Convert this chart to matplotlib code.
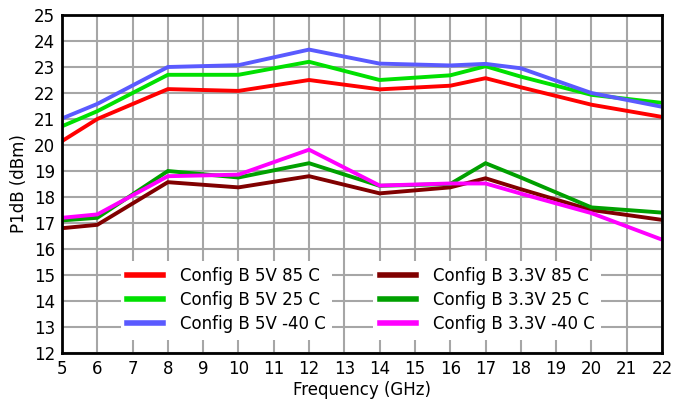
import matplotlib
matplotlib.use('Agg')
import matplotlib.pyplot as plt
import numpy as np

plt.rcParams['font.family'] = ['DejaVu Sans']

freq = [5, 6, 8, 10, 12, 14, 16, 17, 18, 20, 22]

v5_85 = [20.15, 21.0, 22.15, 22.08, 22.5, 22.14, 22.28, 22.57, 22.22, 21.55, 21.08]
v5_25 = [20.72, 21.3, 22.7, 22.7, 23.2, 22.5, 22.68, 23.03, 22.63, 21.93, 21.62]
v5_m40 = [21.02, 21.58, 23.0, 23.07, 23.67, 23.13, 23.06, 23.12, 22.95, 22.0, 21.47]
v33_85 = [16.8, 16.93, 18.57, 18.37, 18.8, 18.14, 18.37, 18.72, 18.3, 17.5, 17.12]
v33_25 = [17.1, 17.2, 19.0, 18.75, 19.3, 18.43, 18.5, 19.3, 18.75, 17.6, 17.4]
v33_m40 = [17.2, 17.33, 18.8, 18.86, 19.82, 18.44, 18.52, 18.52, 18.13, 17.38, 16.36]

labels_5v = ['Config B 5V 85 C', 'Config B 5V 25 C', 'Config B 5V -40 C']
labels_33v = ['Config B 3.3V 85 C', 'Config B 3.3V 25 C', 'Config B 3.3V -40 C']
colors_5v = ['#ff0000', '#00e000', '#5a5aff']
colors_33v = ['#800000', '#00a000', '#ff00ff']

fig = plt.figure(figsize=(6.87, 4.08), dpi=100)
ax = fig.add_axes([62/687, 1-353/408, 600/687, 338/408])

lines_5v = []
for vals, lab, c in zip([v5_85, v5_25, v5_m40], labels_5v, colors_5v):
    l, = ax.plot(freq, vals, color=c, lw=2.8, label=lab, solid_joinstyle='miter')
    lines_5v.append(l)
lines_33v = []
for vals, lab, c in zip([v33_85, v33_25, v33_m40], labels_33v, colors_33v):
    l, = ax.plot(freq, vals, color=c, lw=2.8, label=lab, solid_joinstyle='miter')
    lines_33v.append(l)

ax.set_xlim(5, 22)
ax.set_ylim(12, 25)
ax.set_xticks(np.arange(5, 23, 1))
ax.set_yticks(np.arange(12, 26, 1))
ax.grid(True, color='#a6a6a6', lw=1.5)
ax.set_axisbelow(True)
ax.tick_params(length=0, labelsize=12, pad=5)
for s in ax.spines.values():
    s.set_color('black')
    s.set_linewidth(2)
ax.set_xlabel('Frequency (GHz)', fontsize=12, labelpad=2)
ax.set_ylabel('P1dB (dBm)', fontsize=12, labelpad=4)

# two separate legend boxes, grid shows between them
leg_kw = dict(loc='lower left', fontsize=12, frameon=True, facecolor='white', edgecolor='none',
              framealpha=1, fancybox=False, handlelength=2.15, handletextpad=1.0,
              labelspacing=0.35, borderpad=0.4)
leg1 = ax.legend(handles=lines_5v, bbox_to_anchor=(0.084, 0.015), **leg_kw)
ax.add_artist(leg1)
leg2 = ax.legend(handles=lines_33v, bbox_to_anchor=(0.505, 0.015), **leg_kw)
for lg in (leg1, leg2):
    for h in lg.legend_handles:
        h.set_linewidth(4)

fig.savefig('out.png', dpi=100)
